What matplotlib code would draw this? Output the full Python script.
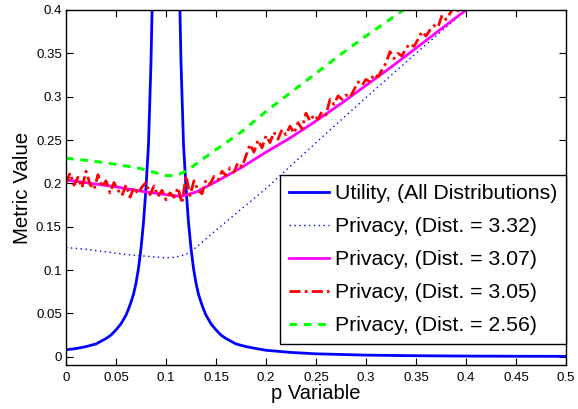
import numpy as np
import matplotlib
matplotlib.use('Agg')
import matplotlib.pyplot as plt
from matplotlib.ticker import FormatStrFormatter

plt.rcParams['font.family'] = ['Liberation Sans', 'DejaVu Sans']

# utility curve (all distributions)
p_util = [0, 0.01, 0.02, 0.03, 0.04, 0.045, 0.05, 0.055, 0.06, 0.0625, 0.065, 0.0675,
          0.07, 0.0725, 0.075, 0.0775, 0.08, 0.0825, 0.085, 0.0875, 0.09, 0.095, 0.1,
          0.105, 0.11, 0.1125, 0.115, 0.1175, 0.12, 0.1225, 0.125, 0.1275, 0.13, 0.1325,
          0.135, 0.1375, 0.14, 0.145, 0.15, 0.155, 0.16, 0.17, 0.18, 0.19, 0.2, 0.225,
          0.25, 0.3, 0.35, 0.4, 0.45, 0.5]
utility = [0.008, 0.0095, 0.0117, 0.0148, 0.021, 0.025, 0.031, 0.038, 0.048, 0.055, 0.063,
           0.072, 0.085, 0.102, 0.125, 0.155, 0.195, 0.245, 0.34, 0.48, 0.78, 3.0, 8.0,
           3.0, 0.78, 0.48, 0.34, 0.245, 0.195, 0.155, 0.125, 0.102, 0.085, 0.072,
           0.063, 0.055, 0.048, 0.038, 0.031, 0.025, 0.021, 0.0148, 0.0117, 0.0095, 0.0075, 0.005,
           0.0034, 0.0019, 0.0012, 0.0008, 0.0006, 0.0005]

# privacy, dist = 3.32
p_332 = [0, 0.02, 0.04, 0.06, 0.08, 0.1, 0.11, 0.12, 0.13, 0.15, 0.2, 0.25, 0.3, 0.35, 0.4, 0.45, 0.5]
priv_332 = [0.126, 0.124, 0.121, 0.118, 0.116, 0.114, 0.115, 0.118, 0.126, 0.146, 0.194,
            0.247, 0.299, 0.35, 0.4, 0.45, 0.5]

# privacy, dist = 3.07
p_307 = [0, 0.025, 0.05, 0.075, 0.1, 0.115, 0.13, 0.15, 0.175, 0.2, 0.225, 0.25, 0.275,
         0.3, 0.325, 0.35, 0.375, 0.4, 0.45, 0.5]
priv_307 = [0.204, 0.2, 0.196, 0.191, 0.187, 0.185, 0.19, 0.202, 0.218, 0.236, 0.253, 0.272,
            0.292, 0.313, 0.334, 0.356, 0.378, 0.4, 0.445, 0.49]

# privacy, dist = 3.05 (noisy)
p_305 = np.linspace(0, 0.4, 101)
priv_305 = [0.200, 0.212, 0.198, 0.207, 0.195, 0.214, 0.199, 0.193, 0.210, 0.196,
            0.203, 0.189, 0.201, 0.192, 0.186, 0.198, 0.184, 0.195, 0.188, 0.196,
            0.201, 0.187, 0.197, 0.185, 0.192, 0.181, 0.189, 0.184, 0.195, 0.177,
            0.209, 0.186, 0.203, 0.192, 0.188, 0.204, 0.199, 0.208, 0.204, 0.214,
            0.209, 0.218, 0.213, 0.224, 0.219, 0.232, 0.245, 0.236, 0.250, 0.241,
            0.255, 0.247, 0.259, 0.251, 0.262, 0.256, 0.266, 0.258, 0.270, 0.263,
            0.281, 0.272, 0.279, 0.274, 0.283, 0.279, 0.297, 0.291, 0.301, 0.297,
            0.302, 0.299, 0.308, 0.317, 0.313, 0.320, 0.317, 0.326, 0.323, 0.331,
            0.339, 0.352, 0.344, 0.350, 0.347, 0.356, 0.361, 0.358, 0.366, 0.375,
            0.370, 0.377, 0.382, 0.380, 0.394, 0.389, 0.396, 0.404, 0.399, 0.407,
            0.410]

# privacy, dist = 2.56
p_256 = [0, 0.025, 0.05, 0.075, 0.1, 0.11, 0.12, 0.15, 0.175, 0.2, 0.225, 0.25, 0.275,
         0.3, 0.325, 0.35, 0.4]
priv_256 = [0.229, 0.226, 0.222, 0.217, 0.209, 0.209, 0.214, 0.239, 0.259, 0.283, 0.305,
            0.327, 0.349, 0.37, 0.39, 0.41, 0.455]

labels = ['Utility, (All Distributions)', 'Privacy, (Dist. = 3.32)', 'Privacy, (Dist. = 3.07)',
          'Privacy, (Dist. = 3.05)', 'Privacy, (Dist. = 2.56)']

fig = plt.figure(figsize=(5.78, 4.09), dpi=100)
ax = fig.add_axes([66 / 578, 44 / 409, 500 / 578, 355 / 409])

ax.plot(p_util, utility, color='#0000ff', lw=2, label=labels[0])
ax.plot(p_332, priv_332, color='#0000ff', lw=1, linestyle=(0, (1, 2.5)), label=labels[1])
ax.plot(p_307, priv_307, color='#ff00ff', lw=2, label=labels[2])
ax.plot(p_305, priv_305, color='#ff0000', lw=2, linestyle=(0, (4, 1.5, 1, 1.5)), label=labels[3])
ax.plot(p_256, priv_256, color='#00ff00', lw=2.2, linestyle=(0, (2.5, 2.2)), label=labels[4])

ax.set_xlim(0, 0.5)
ax.set_ylim(-0.0095, 0.4)
ax.set_xticks(np.arange(0, 0.501, 0.05))
ax.set_yticks(np.arange(0, 0.401, 0.05))
ax.xaxis.set_major_formatter(FormatStrFormatter('%g'))
ax.yaxis.set_major_formatter(FormatStrFormatter('%g'))
ax.tick_params(direction='in', top=True, right=True, length=5, width=0.8, labelsize=9.5)
ax.tick_params(axis='x', pad=5)
ax.tick_params(axis='y', pad=3)
for s in ax.spines.values():
    s.set_linewidth(1)

ax.set_xlabel('p Variable', fontsize=14.5, labelpad=0)
ax.set_ylabel('Metric Value', fontsize=14.8, labelpad=3)

leg = ax.legend(loc='lower right', bbox_to_anchor=(1.0, 0.059), fontsize=15.3, frameon=True,
                fancybox=False, edgecolor='black', framealpha=1, handlelength=1.9,
                handletextpad=0.25, borderpad=0.42, labelspacing=0.66, borderaxespad=0)
leg.get_frame().set_linewidth(1)

fig.savefig('out.png', dpi=100)
